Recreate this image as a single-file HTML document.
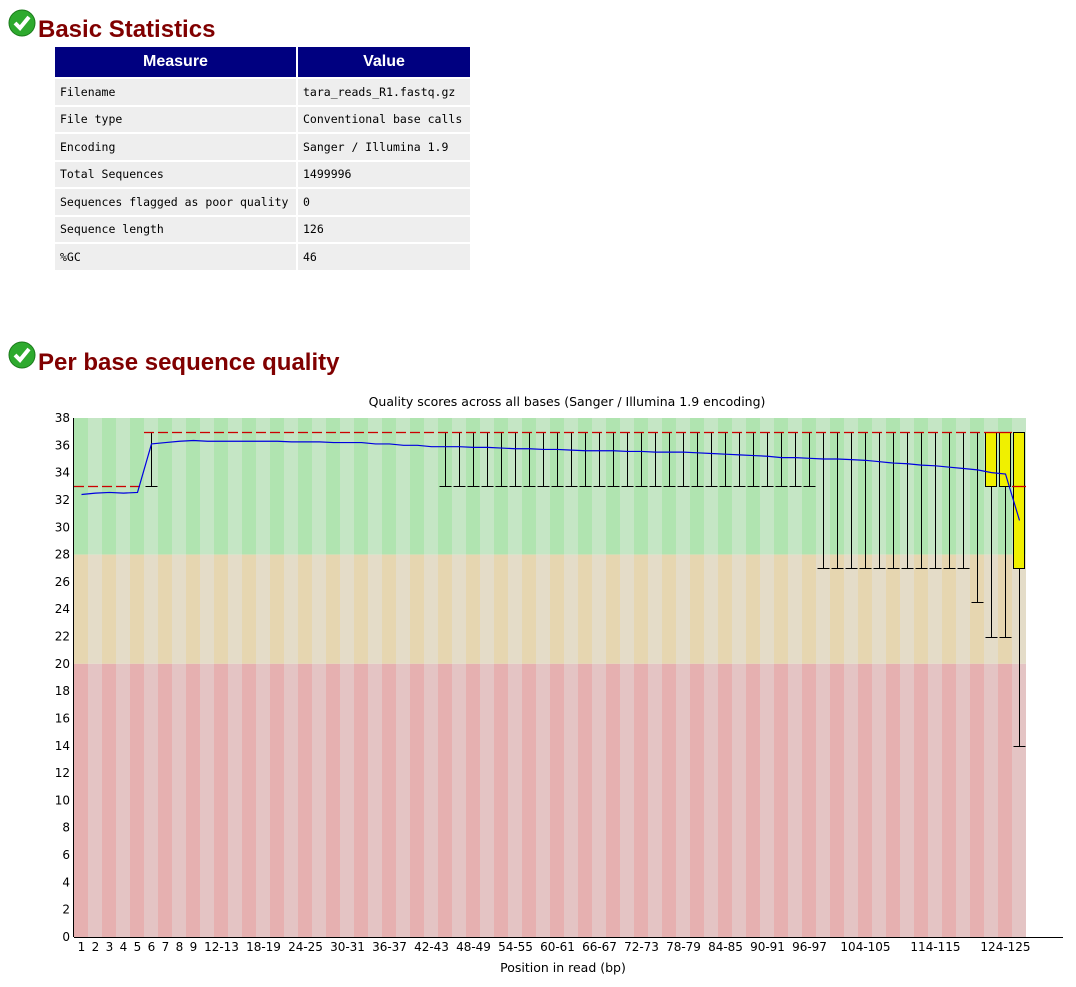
<!DOCTYPE html>
<html><head><meta charset="utf-8">
<style>
body{margin:0;width:1076px;height:987px;background:#fff;font-family:"Liberation Sans",Arial,sans-serif;position:relative;overflow:hidden}
h2{position:absolute;margin:0;color:#800000;font-size:24px;font-weight:bold;left:38px}
.chk{position:absolute;left:8px;width:28px;height:28px}
table{position:absolute;left:53px;top:45px;border-collapse:separate;border-spacing:2px;table-layout:fixed;width:419px}
th{background:#000080;color:#fff;font-size:16px;font-weight:bold;height:30px;padding:0}
td{background:#eee;font-family:"DejaVu Sans Mono","Liberation Mono",monospace;font-size:11.5px;height:25.5px;padding:0 5px;white-space:nowrap;overflow:hidden}
</style></head><body>
<svg class="chk" style="top:9px" viewBox="0 0 28 28"><circle cx="14" cy="14" r="13" fill="#2eaa2e" stroke="#1a7a1a"/><path d="M7 14 L12 19 L21 8" stroke="#fff" stroke-width="4" fill="none"/></svg>
<h2 style="top:16px">Basic Statistics</h2>
<table>
<colgroup><col style="width:241px"><col style="width:172px"></colgroup>
<tr><th>Measure</th><th>Value</th></tr>
<tr><td>Filename</td><td>tara_reads_R1.fastq.gz</td></tr>
<tr><td>File type</td><td>Conventional base calls</td></tr>
<tr><td>Encoding</td><td>Sanger / Illumina 1.9</td></tr>
<tr><td>Total Sequences</td><td>1499996</td></tr>
<tr><td>Sequences flagged as poor quality</td><td>0</td></tr>
<tr><td>Sequence length</td><td>126</td></tr>
<tr><td>%GC</td><td>46</td></tr>
</table>
<svg class="chk" style="top:341px" viewBox="0 0 28 28"><circle cx="14" cy="14" r="13" fill="#2eaa2e" stroke="#1a7a1a"/><path d="M7 14 L12 19 L21 8" stroke="#fff" stroke-width="4" fill="none"/></svg>
<h2 style="top:349px">Per base sequence quality</h2>
<svg id="chart" width="1076" height="987" style="position:absolute;left:0;top:0" font-family="'DejaVu Sans','Liberation Sans',sans-serif" font-size="12"></svg>
<script>
const categories=[];
for(let i=1;i<=9;i++)categories.push(String(i));
for(let i=10;i<=124;i+=2)categories.push(i+'-'+(i+1));
categories.push('126');
const shownLabels=['1','2','3','4','5','6','7','8','9','12-13','18-19','24-25','30-31','36-37','42-43','48-49','54-55','60-61','66-67','72-73','78-79','84-85','90-91','96-97','104-105','114-115','124-125'];
const means=[32.4,32.5,32.55,32.5,32.55,36.1,36.2,36.3,36.35,36.3,36.3,36.3,36.3,36.3,36.3,36.25,36.25,36.25,36.2,36.2,36.2,36.1,36.1,36.0,36.0,35.9,35.9,35.9,35.85,35.85,35.8,35.75,35.75,35.7,35.7,35.65,35.6,35.6,35.6,35.55,35.55,35.5,35.5,35.5,35.45,35.4,35.35,35.3,35.25,35.2,35.1,35.1,35.05,35.0,35.0,34.95,34.9,34.8,34.7,34.65,34.55,34.5,34.4,34.3,34.2,34.0,33.9,30.5];
const medians=[33,33,33,33,33].concat(Array(62).fill(37)).concat([33]);
const q1=[33,33,33,33,33].concat(Array(60).fill(37)).concat([33,33,27]);
const q3=Array(68).fill(37).map((v,i)=>i<5?33:37);
const p10=[33,33,33,33,33,33].concat(Array(20).fill(37)).concat(Array(27).fill(33)).concat(Array(11).fill(27)).concat([24.5,22,22,14]);
const p90=q3.slice();
const yTicks=[0,2,4,6,8,10,12,14,16,18,20,22,24,26,28,30,32,34,36,38];

const svg=document.getElementById('chart');const NS='http://www.w3.org/2000/svg';
const X0=74,CW=14,Y0=937,YT=418;
const xs=i=>X0+i*CW, xc=i=>X0+i*CW+7.5, y=v=>Y0-(v/38)*(Y0-YT);
const yl=v=>Math.round(y(v))+0.5;
function mk(t,a,p){const e=document.createElementNS(NS,t);for(const k in a)e.setAttribute(k,a[k]);(p||svg).appendChild(e);return e;}
categories.forEach((c,i)=>{
  [[28,38,['#b0e4b0','#c5e6c5']],[20,28,['#e6d6b0','#e4dcc8']],[0,20,['#e6b0b0','#e4c4c4']]].forEach(b=>{
    const r=mk('rect',{x:xs(i),y:y(b[1]),width:CW,height:y(b[0])-y(b[1]),fill:b[2][i%2]});
    
    
  });
});
categories.forEach((c,i)=>{
  const g=mk('g',{});
  
  
  if(p90[i]>q3[i])mk('line',{x1:xc(i),x2:xc(i),y1:yl(p90[i]),y2:yl(q3[i]),stroke:'#000'},g);
  if(q1[i]>p10[i]){mk('line',{x1:xc(i),x2:xc(i),y1:yl(q1[i]),y2:yl(p10[i]),stroke:'#000'},g);
    mk('line',{x1:xc(i)-6,x2:xc(i)+6,y1:yl(p10[i]),y2:yl(p10[i]),stroke:'#000'},g);}
  if(q3[i]>q1[i])mk('rect',{x:xs(i)+1.5,y:yl(q3[i]),width:CW-3,height:yl(q1[i])-yl(q3[i]),fill:'#f0f000',stroke:'#000','stroke-width':1},g);
  mk('line',{x1:xs(i),x2:xs(i)+CW,y1:yl(medians[i]),y2:yl(medians[i]),stroke:'#cc0000','stroke-width':1.3,'stroke-dasharray':(q3[i]>q1[i])?'none':'10,4'},g);
});
const pl=mk('polyline',{points:means.map((m,i)=>xc(i)+','+y(m)).join(' '),fill:'none',stroke:'#0000e0','stroke-width':1.2});


mk('line',{x1:X0-0.5,x2:X0-0.5,y1:YT,y2:Y0,stroke:'#000'});
mk('line',{x1:X0,x2:1063,y1:Y0+0.5,y2:Y0+0.5,stroke:'#000'});
yTicks.forEach(t=>{const e=mk('text',{x:70,y:y(t)+4,'text-anchor':'end'});e.textContent=t;
  
  });
categories.forEach((c,i)=>{if(shownLabels.includes(c)){const e=mk('text',{x:xc(i),y:951,'text-anchor':'middle'});e.textContent=c;
  
  }});
const t=mk('text',{x:567,y:406,'text-anchor':'middle','font-size':'12.5'});t.textContent='Quality scores across all bases (Sanger / Illumina 1.9 encoding)';


const xt=mk('text',{x:563,y:972,'text-anchor':'middle','font-size':'12.5'});xt.textContent='Position in read (bp)';


</script>
</body></html>
